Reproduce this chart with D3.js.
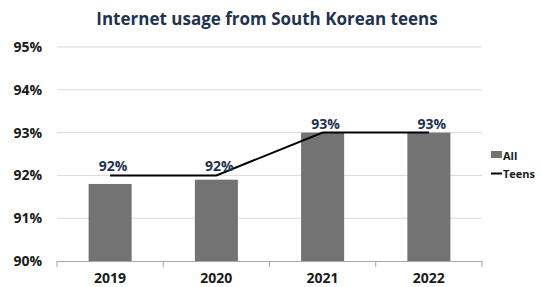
<!DOCTYPE html>
<html>
<head>
<meta charset="utf-8">
<script src="https://d3js.org/d3.v7.min.js"></script>
<style>
  body { margin: 0; background: #fff; }
  svg { font-family: "Open Sans", "Noto Sans", sans-serif; }
</style>
</head>
<body>
<svg class="chart"></svg>
<script>
// data
var years = ["2019", "2020", "2021", "2022"];
var allValues = [91.8, 91.9, 93.0, 93.0];
var teensValues = [92, 92, 93, 93];
var yTicks = [90, 91, 92, 93, 94, 95];

var W = 541, H = 287;
var margin = {top: 47, right: 59, bottom: 26, left: 57};
var width = W - margin.left - margin.right;
var height = H - margin.top - margin.bottom;

var svg = d3.select(".chart").attr("width", W).attr("height", H);

// title
svg.append("text")
  .attr("x", 267).attr("y", 25)
  .attr("text-anchor", "middle")
  .attr("font-size", "17px").attr("font-weight", "bold")
  .attr("fill", "#1f3350")
  .text("Internet usage from South Korean teens");

var chart = svg.append("g")
  .attr("transform", "translate(" + margin.left + "," + margin.top + ")");

var x = d3.scaleBand().domain(years).range([0, width]);
var y = d3.scaleLinear().domain([90, 95]).range([height, 0]);

// grid
chart.selectAll(".grid").data(yTicks.slice(1)).enter()
  .append("line")
  .attr("x1", 0).attr("x2", width)
  .attr("y1", function(d){ return y(d); })
  .attr("y2", function(d){ return y(d); })
  .attr("stroke", "#d9d9d9").attr("stroke-width", 1);

// y axis labels
var yAxis = d3.axisLeft(y).tickValues(yTicks)
  .tickFormat(function(d){ return d + "%"; })
  .tickSize(0).tickPadding(15);
var gy = chart.append("g").call(yAxis);
gy.select(".domain").remove();
gy.selectAll("text")
  .attr("font-size", "14px").attr("font-weight", "bold")
  .attr("fill", "#1a1a1a").attr("font-family", "Open Sans, Noto Sans, sans-serif");

// bars
var barW = x.bandwidth() * 0.405;
chart.selectAll(".bar").data(allValues).enter()
  .append("rect")
  .attr("class", "bar")
  .attr("x", function(d, i){ return x(years[i]) + x.bandwidth() / 2 - barW / 2; })
  .attr("y", function(d){ return y(d); })
  .attr("width", barW)
  .attr("height", function(d){ return height - y(d); })
  .attr("fill", "#737373");

// x axis
var gx = chart.append("g")
  .attr("transform", "translate(0," + height + ")");
gx.append("line")
  .attr("x1", 0).attr("x2", width).attr("y1", 0.5).attr("y2", 0.5)
  .attr("stroke", "#a6a6a6");
gx.selectAll(".tk").data(years.concat(["end"])).enter()
  .append("line")
  .attr("x1", function(d, i){ return i * x.step(); })
  .attr("x2", function(d, i){ return i * x.step(); })
  .attr("y1", 0).attr("y2", 6)
  .attr("stroke", "#a6a6a6");
gx.selectAll(".xl").data(years).enter()
  .append("text")
  .attr("x", function(d){ return x(d) + x.bandwidth() / 2; })
  .attr("y", 22)
  .attr("text-anchor", "middle")
  .attr("font-size", "14px").attr("font-weight", "bold")
  .attr("fill", "#1a1a1a")
  .text(function(d){ return d; });

// teens line
var line = d3.line()
  .x(function(d, i){ return x(years[i]) + x.bandwidth() / 2; })
  .y(function(d){ return y(d); });
chart.append("path")
  .datum(teensValues)
  .attr("d", line)
  .attr("fill", "none")
  .attr("stroke", "#000").attr("stroke-width", 2);

chart.selectAll(".lbl").data(teensValues).enter()
  .append("text")
  .attr("x", function(d, i){ return x(years[i]) + x.bandwidth() / 2 + 3; })
  .attr("y", function(d){ return y(d) - 4; })
  .attr("text-anchor", "middle")
  .attr("font-size", "14px").attr("font-weight", "bold")
  .attr("fill", "#1f3350")
  .text(function(d){ return d + "%"; });

// legend
var lg = svg.append("g").attr("transform", "translate(491,0)");
lg.append("rect").attr("x", 0).attr("y", 151).attr("width", 11).attr("height", 7).attr("fill", "#737373");
lg.append("text").attr("x", 12).attr("y", 160).attr("font-size", "11px").attr("font-weight", "bold")
  .attr("fill", "#1a1a1a").text("All");
lg.append("line").attr("x1", 0).attr("x2", 11).attr("y1", 173.5).attr("y2", 173.5)
  .attr("stroke", "#000").attr("stroke-width", 2);
lg.append("text").attr("x", 12).attr("y", 178).attr("font-size", "11px").attr("font-weight", "bold")
  .attr("fill", "#1a1a1a").text("Teens");
</script>
</body>
</html>
